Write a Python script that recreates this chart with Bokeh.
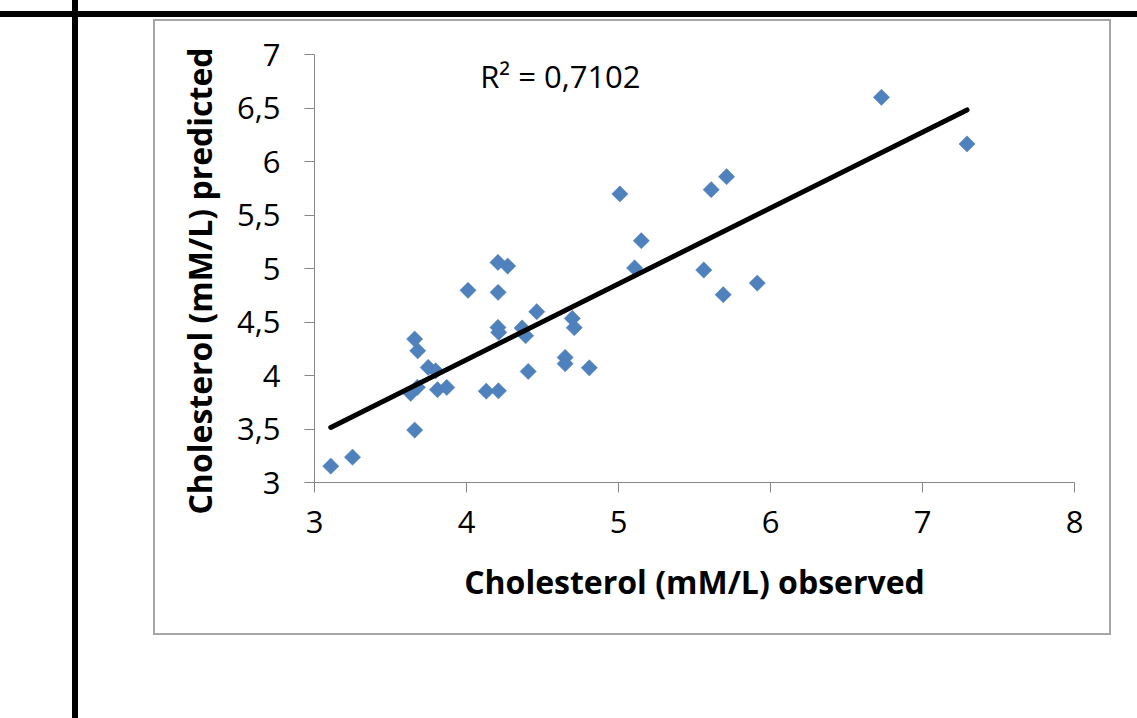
import numpy as np
from bokeh.plotting import figure
from bokeh.models import Range1d, FixedTicker, Label, Div
from bokeh.layouts import column, row
from bokeh.embed import file_html
from bokeh.resources import INLINE

# ---- data ----
observed = [3.107, 3.250, 3.659, 3.659, 3.679, 3.748, 3.797, 3.633, 3.677, 3.809,
            3.870, 4.010, 4.130, 4.210, 4.207, 4.271, 4.208, 4.207, 4.212, 4.366,
            4.389, 4.462, 4.406, 4.649, 4.649, 4.696, 4.709, 4.808, 5.106, 5.009,
            5.150, 5.561, 5.610, 5.711, 5.689, 5.913, 6.730, 7.293]
predicted = [3.153, 3.237, 3.490, 4.341, 4.231, 4.075, 4.044, 3.834, 3.890, 3.867,
             3.888, 4.796, 3.853, 3.857, 5.057, 5.023, 4.777, 4.449, 4.403, 4.444,
             4.372, 4.596, 4.038, 4.169, 4.110, 4.533, 4.447, 4.072, 5.005, 5.697,
             5.260, 4.986, 5.737, 5.858, 4.755, 4.864, 6.600, 6.164]

x_ticks = [3, 4, 5, 6, 7, 8]
x_tick_labels = ["3", "4", "5", "6", "7", "8"]
y_ticks = [3, 3.5, 4, 4.5, 5, 5.5, 6, 6.5, 7]
y_tick_labels = ["3", "3,5", "4", "4,5", "5", "5,5", "6", "6,5", "7"]

r2_text = "R² = 0,7102"
x_title = "Cholesterol (mM/L) observed"
y_title = "Cholesterol (mM/L) predicted"

FONT = "Open Sans"
GRAY_BORDER = "#a6a6a6"

p = figure(width=954, height=612,
           x_range=Range1d(3, 8), y_range=Range1d(3, 7),
           output_backend="svg", toolbar_location=None,
           min_border_left=159, min_border_right=35,
           min_border_top=33, min_border_bottom=151)
p.outline_line_color = None
p.background_fill_color = "white"
p.border_fill_color = "white"
p.xgrid.visible = False
p.ygrid.visible = False

for ax, ticks, labels in ((p.xaxis[0], x_ticks, x_tick_labels), (p.yaxis[0], y_ticks, y_tick_labels)):
    ax.ticker = FixedTicker(ticks=ticks)
    ax.major_label_overrides = {t: l for t, l in zip(ticks, labels)}
    ax.axis_line_color = "#868686"
    ax.major_tick_line_color = "#868686"
    ax.major_tick_in = 0
    ax.major_tick_out = 10
    ax.minor_tick_line_color = None
    ax.major_label_text_font = FONT
    ax.major_label_text_font_size = "31px"
    ax.major_label_text_color = "black"
    ax.axis_label_text_font = FONT
    ax.axis_label_text_font_style = "bold"
    ax.axis_label_text_font_size = "32px"
    ax.axis_label_text_color = "black"

p.xaxis.axis_label = x_title
# trailing no-break spaces shift the centred title slightly down, as in the reference
p.yaxis.axis_label = y_title + "\u00a0" * 3
p.xaxis.major_label_standoff = 18
p.yaxis.major_label_standoff = 24
p.yaxis.major_label_orientation = "horizontal"
p.xaxis.axis_label_standoff = 24
p.yaxis.axis_label_standoff = 13

# scatter points (rotated squares = Excel diamonds)
p.scatter(observed, predicted, marker="square", angle=np.pi / 4, size=11.5,
          fill_color="#4F81BD", line_color="#4F81BD", line_width=0.5)

# linear trendline computed from the data
slope, intercept = np.polyfit(observed, predicted, 1)
xs = np.array([min(observed), max(observed)])
p.line(xs, slope * xs + intercept, line_color="black", line_width=5, line_cap="round")

p.add_layout(Label(x=4.09, y=6.80, text=r2_text, text_font=FONT,
                   text_font_size="31px", text_color="black", text_baseline="middle"))


def block(w, h, color=None):
    st = {"background-color": color} if color else {}
    return Div(text="", width=w, height=h, margin=0, styles=st)


# chart area framed by a thin gray border
chart_box = column(
    block(958, 2, GRAY_BORDER),
    row(block(2, 612, GRAY_BORDER), p, block(2, 612, GRAY_BORDER), spacing=0),
    block(958, 2, GRAY_BORDER),
    spacing=0,
)

right_part = column(block(1059, 2), row(block(75, 616), chart_box, spacing=0), spacing=0)

page = column(
    row(block(72, 11), block(6, 11, "black"), block(1059, 11), spacing=0),
    block(1137, 6, "black"),
    row(block(72, 701), block(6, 701, "black"), right_part, spacing=0),
    spacing=0,
)

open("out.html", "w").write(file_html(page, INLINE))
